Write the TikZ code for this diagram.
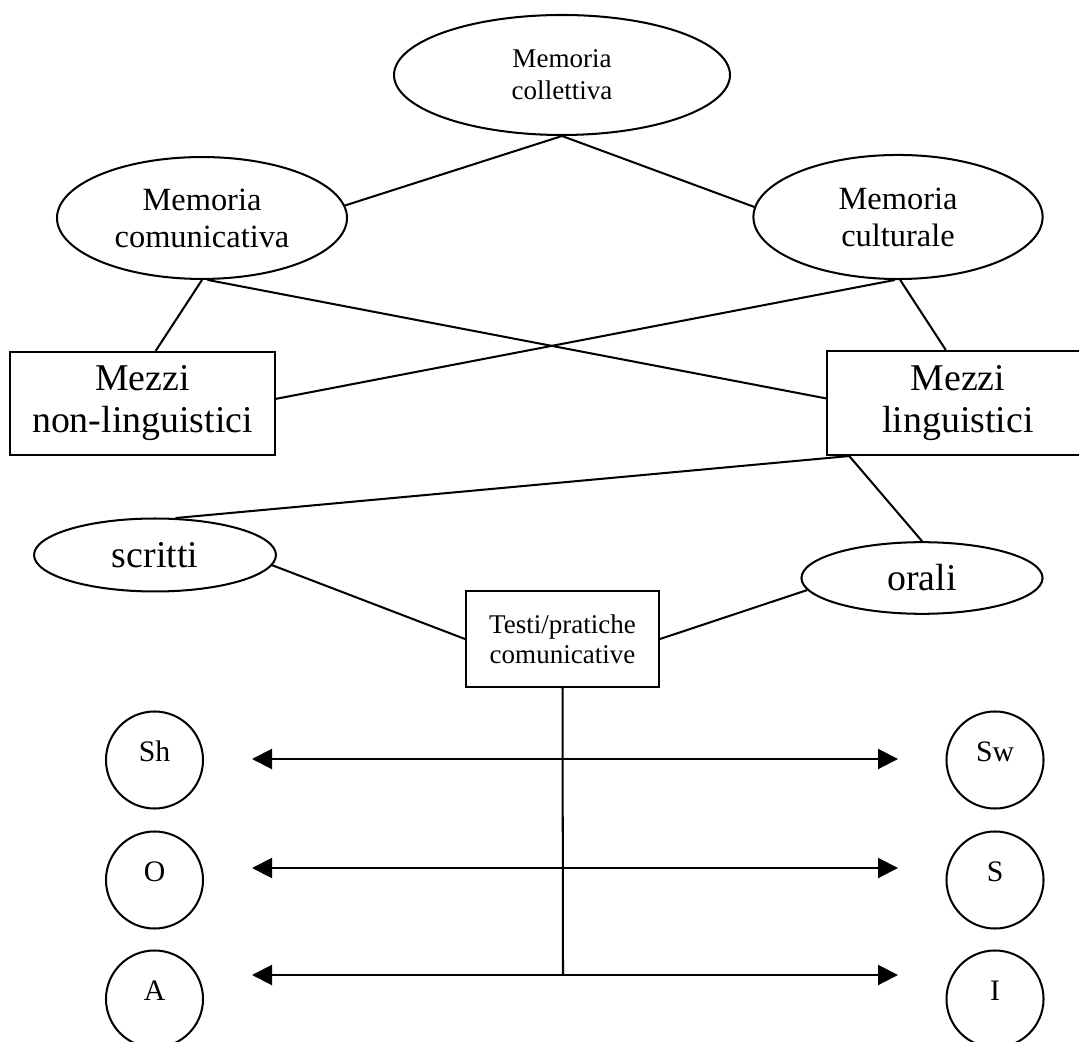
\documentclass[tikz,border=0pt]{standalone}
\usepackage{fontspec}
\setmainfont{Liberation Serif}
\usetikzlibrary{shapes.geometric, arrows.meta}

\begin{document}
\begin{tikzpicture}[x=0.37pt, y=-0.37pt,
    memo/.style={ellipse, draw, line width=0.75pt, inner sep=0pt, align=center},
    mezzo/.style={rectangle, draw, line width=0.75pt, inner sep=0pt, align=center},
    pole/.style={circle, draw, line width=0.75pt, inner sep=0pt, minimum size=35.9pt,
                 text height=7.5pt, text depth=6.5pt, font=\fontsize{11}{13}\selectfont},
    link/.style={line width=0.75pt},
    arrow/.style={<->, >={Triangle[length=7.4pt, width=7.4pt]}, line width=0.75pt}
]
    \useasboundingbox (0,0) rectangle (1079,1042);
    \clip (0,0) rectangle (1079,1042);

    % Memorie
    \node[memo, minimum width=124.3pt, minimum height=44.4pt, font=\fontsize{10}{11.8}\selectfont] (collettiva) at (562,75) {Memoria\\collettiva};
    \node[memo, minimum width=107.3pt, minimum height=45.1pt, font=\fontsize{12}{13.7}\selectfont] (comunicativa) at (202,218) {Memoria\\comunicativa};
    \node[memo, minimum width=107pt, minimum height=45.9pt, font=\fontsize{12}{13.7}\selectfont] (culturale) at (898,217) {Memoria\\culturale};

    % Mezzi
    \node[mezzo, minimum width=98pt, minimum height=38.1pt, font=\fontsize{14}{15.5}\selectfont] (nonling) at (142.5,403.5) {Mezzi\\non-linguistici};
    \node[mezzo, minimum width=97pt, minimum height=38.5pt, font=\fontsize{14}{15.5}\selectfont] (ling) at (958,403) {Mezzi\\linguistici};

    % Scritti / orali
    \node[memo, minimum width=89.5pt, minimum height=27pt, font=\fontsize{14}{15.5}\selectfont] (scritti) at (155,555) {scritti};
    \node[memo, minimum width=89.2pt, minimum height=26.5pt, font=\fontsize{14}{15.5}\selectfont] (orali) at (922,578) {orali};
    \node[mezzo, minimum width=71.4pt, minimum height=35.5pt, font=\fontsize{10}{11.1}\selectfont] (testi) at (562.5,639) {Testi/pratiche\\comunicative};

    % Poli
    \node[pole] (sh) at (154.5,760) {Sh};
    \node[pole] (sw) at (995,760) {Sw};
    \node[pole] (o) at (154.5,880) {O};
    \node[pole] (s) at (995,880) {S};
    \node[pole] (a) at (154.5,999) {A};
    \node[pole] (i) at (995,999) {I};

    \coordinate (shend) at (252,759);
    \coordinate (swend) at (898,759);
    \coordinate (oend) at (252,868);
    \coordinate (send) at (898,868);
    \coordinate (aend) at (252,975);
    \coordinate (iend) at (898,975);
    \coordinate (hub) at (563,975);

    % Collegamenti
    \draw[link] (collettiva.south) -- (comunicativa.5);
    \draw[link] (collettiva.south) -- (culturale.176);
    \draw[link] (comunicativa.south) -- (nonling.76);
    \draw[link] (comunicativa.-85) -- (ling.178);
    \draw[link] (culturale.-93) -- (nonling.2);
    \draw[link] (culturale.-88) -- (ling.103);
    \draw[link] (ling.206) -- (scritti.61);
    \draw[link] (ling.206) -- (orali.north);
    \draw[link] (scritti.-5) -- (testi.west);
    \draw[link] (orali.186) -- (testi.east);
    \draw[link] (testi.south) -- (hub);

    \draw[arrow] (shend) -- (swend);
    \draw[arrow] (oend) -- (send);
    \draw[arrow] (aend) -- (iend);
\end{tikzpicture}
\end{document}
